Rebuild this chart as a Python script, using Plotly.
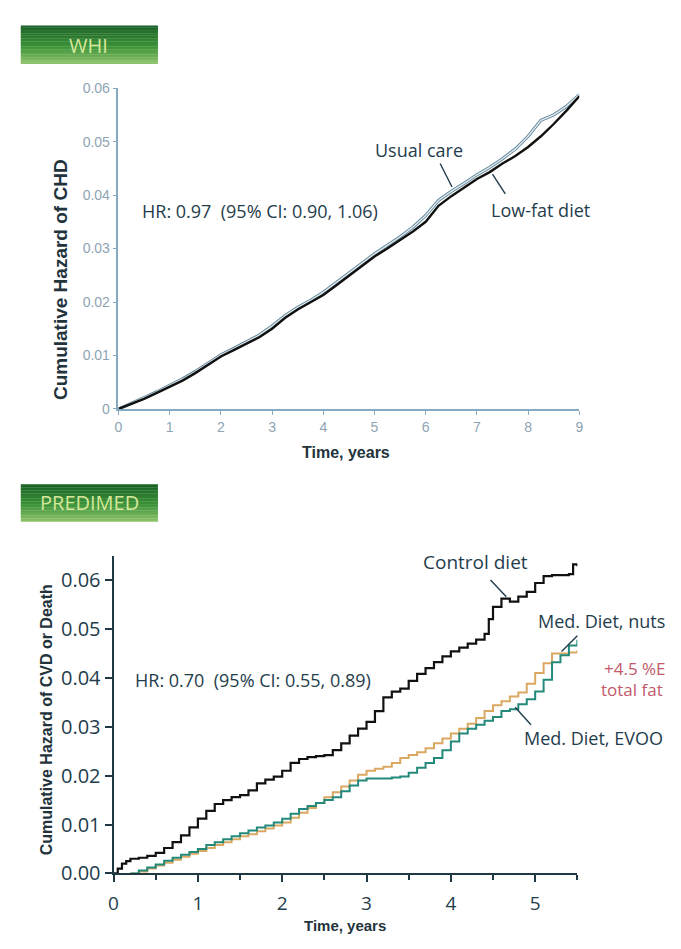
import plotly.graph_objects as go

# ---------------- DATA ----------------
# WHI (top panel)
whi_time = [0, 0.25, 0.5, 0.75, 1, 1.25, 1.5, 1.75, 2, 2.25, 2.5, 2.75, 3, 3.25, 3.5, 3.75,
            4, 4.25, 4.5, 4.75, 5, 5.25, 5.5, 5.75, 6, 6.25, 6.5, 6.75, 7, 7.25, 7.5, 7.75,
            8, 8.25, 8.5, 8.75, 9]
whi_lowfat = [0, 0.0009, 0.0019, 0.0030, 0.0042, 0.0053, 0.0067, 0.0082, 0.0098, 0.0110,
              0.0122, 0.0134, 0.0150, 0.0170, 0.0186, 0.0199, 0.0213, 0.0231, 0.0249, 0.0267,
              0.0285, 0.0300, 0.0316, 0.0332, 0.0350, 0.0380, 0.0398, 0.0414, 0.0430, 0.0443,
              0.0459, 0.0473, 0.0490, 0.0510, 0.0533, 0.0558, 0.0585]
whi_usual = [0, 0.0010, 0.0021, 0.0032, 0.0044, 0.0056, 0.0070, 0.0085, 0.0101, 0.0113,
             0.0125, 0.0138, 0.0155, 0.0174, 0.0190, 0.0203, 0.0218, 0.0236, 0.0254, 0.0272,
             0.0290, 0.0306, 0.0322, 0.0340, 0.0362, 0.0390, 0.0407, 0.0422, 0.0438, 0.0452,
             0.0468, 0.0486, 0.0510, 0.0540, 0.0550, 0.0566, 0.0588]
whi_xticks = [0, 1, 2, 3, 4, 5, 6, 7, 8, 9]
whi_yticks = [0, 0.01, 0.02, 0.03, 0.04, 0.05, 0.06]
whi_ytext = ["0", "0.01", "0.02", "0.03", "0.04", "0.05", "0.06"]

# PREDIMED (bottom panel)
ctrl_time = [0, 0.05, 0.1, 0.15, 0.2, 0.3, 0.4, 0.5, 0.6, 0.7, 0.8, 0.9, 1.0, 1.1, 1.2, 1.3,
             1.4, 1.5, 1.6, 1.7, 1.8, 1.9, 2.0, 2.1, 2.2, 2.3, 2.4, 2.5, 2.6, 2.7, 2.8, 2.9,
             3.0, 3.1, 3.2, 3.3, 3.4, 3.5, 3.6, 3.7, 3.8, 3.9, 4.0, 4.1, 4.2, 4.3, 4.4, 4.45,
             4.5, 4.6, 4.7, 4.8, 4.9, 5.0, 5.1, 5.2, 5.3, 5.4, 5.45, 5.5]
ctrl_haz = [0, 0.001, 0.002, 0.0025, 0.003, 0.0032, 0.0036, 0.0042, 0.0052, 0.0064, 0.0078,
            0.0094, 0.0112, 0.0128, 0.0142, 0.015, 0.0156, 0.016, 0.017, 0.0184, 0.0192,
            0.0198, 0.021, 0.0226, 0.0234, 0.0238, 0.024, 0.0242, 0.0252, 0.0266, 0.0282,
            0.0296, 0.031, 0.0332, 0.036, 0.0372, 0.0378, 0.0394, 0.0408, 0.042, 0.0432,
            0.0444, 0.0454, 0.0462, 0.047, 0.0478, 0.049, 0.052, 0.0545, 0.0562, 0.0556,
            0.0566, 0.0576, 0.0594, 0.0608, 0.061, 0.061, 0.0612, 0.0632, 0.0628]

med_time = [0.2, 0.3, 0.4, 0.5, 0.6, 0.7, 0.8, 0.9, 1.0, 1.1, 1.2, 1.3, 1.4, 1.5, 1.6, 1.7,
            1.8, 1.9, 2.0, 2.1, 2.2, 2.3, 2.4, 2.5, 2.6, 2.7, 2.8, 2.9, 3.0, 3.1, 3.2, 3.3,
            3.4, 3.5, 3.6, 3.7, 3.8, 3.9, 4.0, 4.1, 4.2, 4.3, 4.4, 4.5, 4.6, 4.7, 4.8, 4.9,
            5.0, 5.1, 5.2, 5.3, 5.4, 5.5]
evoo_haz = [0, 0.0006, 0.0012, 0.0018, 0.0026, 0.0032, 0.0038, 0.0044, 0.005, 0.0058, 0.0064,
            0.007, 0.0076, 0.0082, 0.0088, 0.0094, 0.0098, 0.0104, 0.0112, 0.0122, 0.0132,
            0.0138, 0.0144, 0.015, 0.0156, 0.0168, 0.018, 0.019, 0.0194, 0.0194, 0.0194,
            0.0196, 0.0198, 0.0206, 0.0216, 0.0226, 0.0236, 0.0252, 0.027, 0.0286, 0.0296,
            0.0304, 0.0312, 0.032, 0.0332, 0.0336, 0.0346, 0.0356, 0.0372, 0.0396, 0.0432,
            0.0446, 0.0466, 0.0478]
nuts_haz = [0, 0.0004, 0.001, 0.0016, 0.0022, 0.0028, 0.0034, 0.004, 0.0046, 0.0052, 0.0058,
            0.0064, 0.007, 0.0076, 0.008, 0.0086, 0.0092, 0.0098, 0.0104, 0.0114, 0.0124,
            0.0134, 0.0144, 0.0156, 0.0166, 0.0178, 0.019, 0.0202, 0.021, 0.0214, 0.0218,
            0.0226, 0.0236, 0.0242, 0.0248, 0.0256, 0.0266, 0.0276, 0.0286, 0.0296, 0.0306,
            0.0318, 0.0332, 0.0344, 0.0352, 0.0362, 0.037, 0.0388, 0.041, 0.043, 0.045,
            0.045, 0.0452, 0.0456]
pre_xticks = [0, 1, 2, 3, 4, 5]
pre_yticks = [0, 0.01, 0.02, 0.03, 0.04, 0.05, 0.06]

# ---------------- LAYOUT HELPERS ----------------
W, H = 681, 949
def px(x):
    return x / W
def py(y):
    return 1 - y / H

TXT = "#1f3d4c"
LIGHTAX = "#86aac2"
TITLE = "#22333c"

fig = go.Figure()

# top panel traces
fig.add_trace(go.Scatter(x=whi_time, y=whi_usual, mode="lines", xaxis="x", yaxis="y",
                         line=dict(color="#5f8598", width=3.2), hoverinfo="skip", showlegend=False))
fig.add_trace(go.Scatter(x=whi_time, y=whi_usual, mode="lines", xaxis="x", yaxis="y",
                         line=dict(color="#dfe9ee", width=1.4), name="Usual care", showlegend=False))
fig.add_trace(go.Scatter(x=whi_time, y=whi_lowfat, mode="lines", xaxis="x", yaxis="y",
                         line=dict(color="#111111", width=2.4), name="Low-fat diet", showlegend=False))

# bottom panel traces
fig.add_trace(go.Scatter(x=med_time, y=nuts_haz, mode="lines", xaxis="x2", yaxis="y2",
                         line=dict(color="#dba862", width=2, shape="hv"), name="Med. Diet, nuts",
                         showlegend=False))
fig.add_trace(go.Scatter(x=med_time, y=evoo_haz, mode="lines", xaxis="x2", yaxis="y2",
                         line=dict(color="#23897a", width=2, shape="hv"), name="Med. Diet, EVOO",
                         showlegend=False))
fig.add_trace(go.Scatter(x=ctrl_time, y=ctrl_haz, mode="lines", xaxis="x2", yaxis="y2",
                         line=dict(color="#111111", width=2.2, shape="hv"), name="Control diet",
                         showlegend=False))

fig.update_layout(
    width=W, height=H, margin=dict(l=0, r=0, t=0, b=0),
    paper_bgcolor="white", plot_bgcolor="white",
    xaxis=dict(domain=[px(115), px(582)], range=[0, 9], anchor="y",
               tickvals=whi_xticks, ticks="outside", ticklen=4, tickcolor=LIGHTAX, tickwidth=1.2,
               showline=True, linecolor=LIGHTAX, linewidth=1.6, showgrid=False, zeroline=False,
               tickfont=dict(family="Liberation Sans", size=14, color="#8ea4b4")),
    yaxis=dict(domain=[py(410), py(82)], range=[0, 0.06], anchor="x",
               tickvals=whi_yticks, ticktext=whi_ytext, ticks="outside", ticklen=4,
               tickcolor=LIGHTAX, tickwidth=1.2,
               showline=True, linecolor=LIGHTAX, linewidth=1.6, showgrid=False, zeroline=False,
               tickfont=dict(family="Liberation Sans", size=14, color="#8ea4b4")),
    xaxis2=dict(domain=[px(110), px(580)], range=[0, 5.5], anchor="y2",
                tickvals=pre_xticks, ticks="outside", ticklen=7, tickcolor="#1e3844", tickwidth=2,
                ticklabelstandoff=5,
                minor=dict(dtick=0.5, tick0=0, ticks="outside", ticklen=5, tickcolor="#1e3844",
                           tickwidth=2),
                showline=True, linecolor="#1e3844", linewidth=2, showgrid=False, zeroline=False,
                tickfont=dict(family="Open Sans", size=19, color=TXT)),
    yaxis2=dict(domain=[py(885), py(560)], range=[0, 0.065], anchor="x2",
                tickvals=pre_yticks, tickformat=".2f", ticks="outside", ticklen=7,
                tickcolor="#1e3844", tickwidth=2,
                showline=True, linecolor="#1e3844", linewidth=2, showgrid=False, zeroline=False,
                tickfont=dict(family="Open Sans", size=20, color=TXT)),
)

shapes = []
# gradient badges (vertical gradient approximated by thin bands)
def badge(x0, y0, x1, y1):
    top = (0x1b, 0x63, 0x26)
    mid = (0x3c, 0x93, 0x38)
    bot = (0x8a, 0xc0, 0x68)
    n = 24
    h = (y1 - y0) / n
    for i in range(n):
        f = i / (n - 1)
        if f < 0.55:
            g = f / 0.55
            c = tuple(int(top[k] + (mid[k] - top[k]) * g) for k in range(3))
        else:
            g = (f - 0.55) / 0.45
            c = tuple(int(mid[k] + (bot[k] - mid[k]) * g) for k in range(3))
        shapes.append(dict(type="rect", xref="paper", yref="paper",
                           x0=px(x0), x1=px(x1), y0=py(y0 + (i + 1) * h + 0.3), y1=py(y0 + i * h),
                           fillcolor="rgb(%d,%d,%d)" % c, line=dict(width=0), layer="below"))
badge(16, 18, 155, 57)
badge(16, 487, 155, 525)

# pointer lines
def seg(x0, y0, x1, y1, color=TXT, w=1.4):
    shapes.append(dict(type="line", xref="paper", yref="paper", x0=px(x0), y0=py(y0),
                       x1=px(x1), y1=py(y1), line=dict(color=color, width=w)))
seg(441, 159, 453, 183)
seg(494, 170, 507, 190)
seg(492, 585, 508, 602)
seg(580, 642, 564, 658)
seg(517, 715, 533, 733)
fig.update_layout(shapes=shapes)

ann = []
def text(x, y, s, size, color=TXT, family="Open Sans", xanchor="center", yanchor="middle",
         bold=False, angle=0):
    if bold:
        s = "<b>" + s + "</b>"
    ann.append(dict(x=px(x), y=py(y), xref="paper", yref="paper", text=s, showarrow=False,
                    xanchor=xanchor, yanchor=yanchor, textangle=angle,
                    font=dict(family=family, size=size, color=color)))

text(85, 38, "WHI", 20, color="#d6e79a")
text(86, 506, "PREDIMED", 20, color="#d6e79a")
text(137, 208, "HR: 0.97&nbsp;&nbsp;(95% CI: 0.90, 1.06)", 18, xanchor="left")
text(420, 145, "Usual care", 18)
text(543, 207, "Low-fat diet", 18)
text(57, 278, "Cumulative Hazard of CHD", 19, color=TITLE, family="Liberation Sans",
     bold=True, angle=-90)
text(346, 455, "Time, years", 16, color=TITLE, family="Liberation Sans", bold=True)

text(130, 687, "HR: 0.70&nbsp;&nbsp;(95% CI: 0.55, 0.89)", 18, xanchor="left")
text(477, 567, "Control diet", 19)
text(604, 627, "Med. Diet, nuts", 18)
text(638, 675, "+4.5 %E", 17, color="#c25a6a")
text(635, 697, "total fat", 17, color="#c25a6a")
text(596, 747, "Med. Diet, EVOO", 18)
text(42, 728, "Cumulative Hazard of CVD or Death", 16, color=TITLE,
     family="Liberation Sans", bold=True, angle=-90)
text(345, 949, "Time, years", 15, color=TITLE, family="Liberation Sans", bold=True,
     yanchor="bottom")
fig.update_layout(annotations=ann)

fig.write_html("out.html")
